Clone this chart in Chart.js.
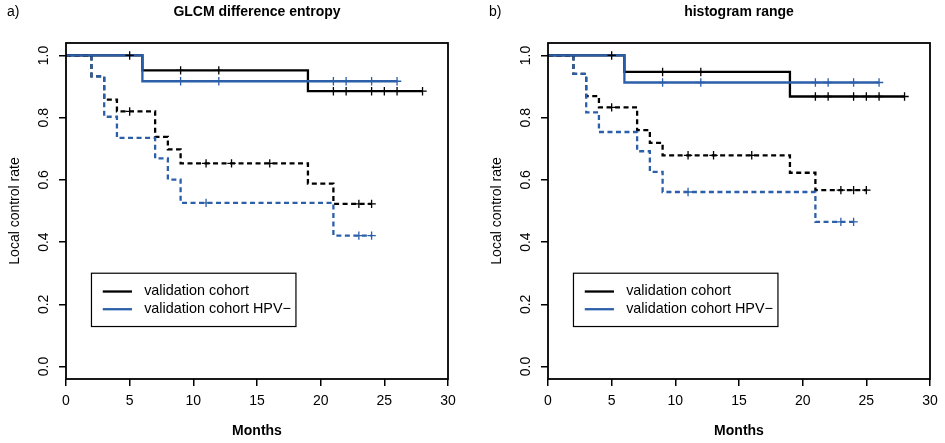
<!DOCTYPE html>
<html>
<head>
<meta charset="utf-8">
<script src="https://cdn.jsdelivr.net/npm/chart.js@4.4.0/dist/chart.umd.min.js"></script>
<style>
  body { margin: 0; background: #fff; }
  #wrap { position: relative; width: 945px; height: 443px; }
  .panel { position: absolute; top: 0; }
</style>
</head>
<body>
<div id="wrap">
  <canvas id="chart1" class="panel" style="left:0" width="463" height="443"></canvas>
  <canvas id="chart2" class="panel" style="left:482px" width="463" height="443"></canvas>
</div>
<script>
// ticks + legend text
const xTicks = [0, 5, 10, 15, 20, 25, 30];
const yTicks = [0, 0.2, 0.4, 0.6, 0.8, 1.0];
const seriesNames = ['validation cohort', 'validation cohort HPV\u2212'];

// a) GLCM difference entropy
const a_all_time = [6, 19];
const a_all_surv = [0.952, 0.885];
const a_all_cens = [5, 9, 12, 21, 22, 24, 25, 26, 28];
const a_hpv_time = [6];
const a_hpv_surv = [0.917];
const a_hpv_cens = [9, 12, 21, 22, 24, 26];
const a_all_hi_time = [2, 3, 4, 7, 8, 9, 19, 21];
const a_all_hi_surv = [0.933, 0.858, 0.82, 0.738, 0.698, 0.653, 0.588, 0.523];
const a_all_hi_cens = [5, 11, 13, 16, 23, 24];
const a_hpv_hi_time = [2, 3, 4, 7, 8, 9, 21];
const a_hpv_hi_surv = [0.933, 0.803, 0.735, 0.669, 0.601, 0.526, 0.421];
const a_hpv_hi_cens = [11, 23, 24];

// b) histogram range
const b_all_time = [6, 19];
const b_all_surv = [0.947, 0.868];
const b_all_cens = [5, 9, 12, 21, 22, 24, 25, 26, 28];
const b_hpv_time = [6];
const b_hpv_surv = [0.913];
const b_hpv_cens = [9, 12, 21, 22, 24, 26];
const b_all_hi_time = [2, 3, 4, 7, 8, 9, 19, 21];
const b_all_hi_surv = [0.941, 0.869, 0.833, 0.76, 0.719, 0.679, 0.623, 0.567];
const b_all_hi_cens = [5, 11, 13, 16, 23, 24, 25];
const b_hpv_hi_time = [2, 3, 4, 7, 8, 9, 21];
const b_hpv_hi_surv = [0.941, 0.817, 0.754, 0.692, 0.626, 0.561, 0.465];
const b_hpv_hi_cens = [11, 23, 24];

const BLACK = '#000000';
const BLUE = '#2c5faa';
const FONT = '"Liberation Sans", Arial, Helvetica, sans-serif';

function survAt(times, surv, t) {
    let s = 1;
    times.forEach((tt, i) => { if (tt <= t) s = surv[i]; });
    return s;
}

// step curve: start at (0,1), one point per event, runs on to the last censor
function kmPoints(times, surv, cens) {
    const pts = [{ x: 0, y: 1 }];
    times.forEach((t, i) => pts.push({ x: t, y: surv[i] }));
    const end = Math.max(...cens);
    pts.push({ x: end, y: survAt(times, surv, end) });
    return pts;
}

function censPoints(times, surv, cens) {
    return cens.map(t => ({ x: t, y: survAt(times, surv, t) }));
}

function curve(times, surv, cens, color, dashed) {
    return {
        type: 'line',
        data: kmPoints(times, surv, cens),
        borderColor: color,
        borderWidth: 2.3,
        borderDash: dashed ? [5, 3.5] : [],
        stepped: 'before',
        pointRadius: 0,
        fill: false,
    };
}

function marks(times, surv, cens, color) {
    return {
        type: 'scatter',
        data: censPoints(times, surv, cens),
        pointStyle: 'cross',
        pointRadius: 4.2,
        borderColor: color,
        borderWidth: 1.3,
    };
}

// R-like decorations: box, rotated y labels, titles, legend
const rDecor = {
    id: 'rDecor',
    afterDraw(chart, args, opts) {
        const ctx = chart.ctx;
        const area = chart.chartArea;
        const xs = chart.scales.x;
        const ys = chart.scales.y;
        const mid = (area.left + area.right) / 2;
        ctx.save();
        ctx.strokeStyle = '#000';
        ctx.lineWidth = 1.8;
        ctx.strokeRect(area.left, area.top, area.right - area.left, area.bottom - area.top);

        ctx.fillStyle = '#000';
        ctx.textBaseline = 'middle';
        ctx.font = '14px ' + FONT;
        ys.ticks.forEach(t => {
            const py = ys.getPixelForValue(t.value);
            ctx.save();
            ctx.translate(44, py);
            ctx.rotate(-Math.PI / 2);
            ctx.textAlign = 'center';
            ctx.fillText(t.value.toFixed(1), 0, 0);
            ctx.restore();
        });

        ctx.save();
        ctx.translate(15, (area.top + area.bottom) / 2);
        ctx.rotate(-Math.PI / 2);
        ctx.textAlign = 'center';
        ctx.fillText('Local control rate', 0, 0);
        ctx.restore();

        ctx.textAlign = 'left';
        ctx.fillText(opts.tag, 7, 12.5);
        ctx.font = 'bold 14px ' + FONT;
        ctx.textAlign = 'center';
        ctx.fillText(opts.title, mid, 12.5);
        ctx.fillText('Months', mid, 431.5);

        // legend
        ctx.font = '14.4px ' + FONT;
        const bx = xs.getPixelForValue(2);
        const by = ys.getPixelForValue(0.3);
        const textX = bx + 52.7;
        const w = Math.max(...seriesNames.map(n => ctx.measureText(n).width));
        ctx.lineWidth = 1.2;
        ctx.strokeRect(bx, by, textX + w + 5 - bx, 53.3);
        const cols = [BLACK, BLUE];
        seriesNames.forEach((n, i) => {
            const ry = by + 18.3 + i * 17.7;
            ctx.strokeStyle = cols[i];
            ctx.lineWidth = 2.3;
            ctx.beginPath();
            ctx.moveTo(bx + 11.3, ry);
            ctx.lineTo(bx + 40.5, ry);
            ctx.stroke();
            ctx.textAlign = 'left';
            ctx.fillText(n, textX, ry);
        });
        ctx.restore();
    }
};

function makeConfig(title, tag, s) {
    return {
        data: {
            datasets: [
                marks(s.hpv_time, s.hpv_surv, s.hpv_cens, BLUE),
                marks(s.all_time, s.all_surv, s.all_cens, BLACK),
                marks(s.hpv_hi_time, s.hpv_hi_surv, s.hpv_hi_cens, BLUE),
                marks(s.all_hi_time, s.all_hi_surv, s.all_hi_cens, BLACK),
                curve(s.hpv_time, s.hpv_surv, s.hpv_cens, BLUE, false),
                curve(s.all_time, s.all_surv, s.all_cens, BLACK, false),
                curve(s.hpv_hi_time, s.hpv_hi_surv, s.hpv_hi_cens, BLUE, true),
                curve(s.all_hi_time, s.all_hi_surv, s.all_hi_cens, BLACK, true),
            ],
        },
        options: {
            responsive: false,
            animation: false,
            layout: { padding: { top: 43, right: 15, left: 0, bottom: 0 } },
            plugins: {
                legend: { display: false },
                tooltip: { enabled: false },
                rDecor: { title: title, tag: tag },
            },
            scales: {
                x: {
                    type: 'linear',
                    min: xTicks[0],
                    max: xTicks[xTicks.length - 1],
                    afterBuildTicks: (scale) => { scale.ticks = xTicks.map(v => ({ value: v })); },
                    afterFit: (scale) => { scale.height = 64; },
                    grid: { drawOnChartArea: false, drawTicks: true, tickLength: 7, color: '#000', lineWidth: 1.5 },
                    border: { display: false },
                    ticks: { color: '#000', padding: 7, maxRotation: 0, font: { family: FONT, size: 14 } },
                },
                y: {
                    type: 'linear',
                    min: -0.04,
                    max: 1.04,
                    afterBuildTicks: (scale) => { scale.ticks = yTicks.map(v => ({ value: v })); },
                    afterFit: (scale) => { scale.width = 66; },
                    grid: { drawOnChartArea: false, drawTicks: true, tickLength: 7, color: '#000', lineWidth: 1.5 },
                    border: { display: false },
                    ticks: { display: false },
                },
            },
        },
        plugins: [rDecor],
    };
}

const set_a = {
    all_time: a_all_time, all_surv: a_all_surv, all_cens: a_all_cens,
    hpv_time: a_hpv_time, hpv_surv: a_hpv_surv, hpv_cens: a_hpv_cens,
    all_hi_time: a_all_hi_time, all_hi_surv: a_all_hi_surv, all_hi_cens: a_all_hi_cens,
    hpv_hi_time: a_hpv_hi_time, hpv_hi_surv: a_hpv_hi_surv, hpv_hi_cens: a_hpv_hi_cens,
};
const set_b = {
    all_time: b_all_time, all_surv: b_all_surv, all_cens: b_all_cens,
    hpv_time: b_hpv_time, hpv_surv: b_hpv_surv, hpv_cens: b_hpv_cens,
    all_hi_time: b_all_hi_time, all_hi_surv: b_all_hi_surv, all_hi_cens: b_all_hi_cens,
    hpv_hi_time: b_hpv_hi_time, hpv_hi_surv: b_hpv_hi_surv, hpv_hi_cens: b_hpv_hi_cens,
};

const ctx_a = document.getElementById('chart1').getContext('2d');
const chart_a = new Chart(ctx_a, makeConfig('GLCM difference entropy', 'a)', set_a));

const ctx_b = document.getElementById('chart2').getContext('2d');
const chart_b = new Chart(ctx_b, makeConfig('histogram range', 'b)', set_b));
</script>
</body>
</html>
